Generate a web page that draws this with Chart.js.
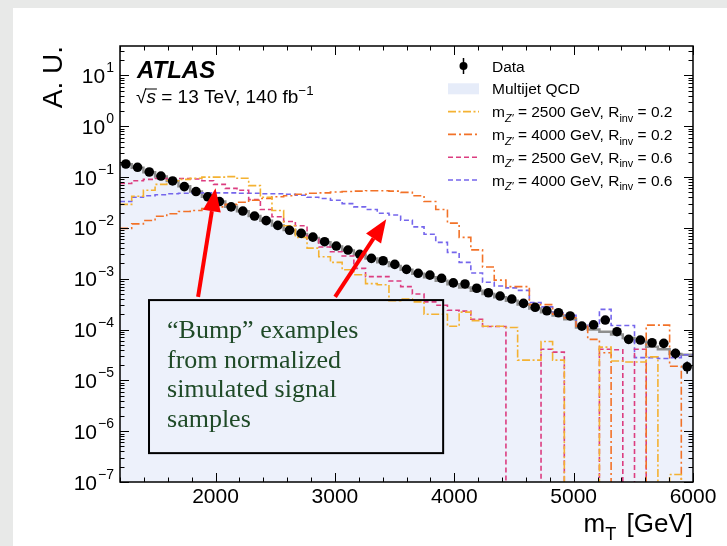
<!DOCTYPE html>
<html>
<head>
<meta charset="utf-8">
<script src="https://cdn.jsdelivr.net/npm/chart.js@4.4.1/dist/chart.umd.min.js"></script>
<style>
  html, body { margin: 0; padding: 0; width: 100%; height: 100%; overflow: hidden; background: #fff; }
  .strip { position: absolute; background: #e8e9e8; }
  #top { left: 0; top: 0; width: 100%; height: 8px; }
  #left { left: 0; top: 0; width: 13px; height: 100%; }
  #c { position: absolute; left: 0; top: 0; }
</style>
</head>
<body>
<div class="strip" id="top"></div>
<div class="strip" id="left"></div>
<canvas id="c" width="727" height="546"></canvas>
<script>
'use strict';

// bin edges of the mT histogram [GeV]
var binEdges = [1200,1298,1396,1494,1592,1690,1788,1886,1984,2082,2180,2278,2376,2473,2571,2669,2767,2865,2963,3061,
                3159,3257,3355,3453,3551,3649,3747,3845,3943,4041,4139,4237,4335,4433,4531,4629,4727,4824,4922,5020,
                5118,5216,5314,5412,5510,5608,5706,5804,5902,6000];

var dataValues = [0.181,0.156,0.126,0.105,0.084,0.065,0.052,0.041,0.033,0.026,
                  0.0215,0.0171,0.0139,0.0112,0.0090,0.0078,0.0066,0.00535,0.0044,0.00367,
                  0.00302,0.00252,0.00226,0.00192,0.00153,0.00128,0.00118,0.00102,0.00083,0.00079,
                  0.00065,0.00053,0.000456,0.000398,0.000328,0.000274,0.000234,0.000214,0.000185,0.000117,
                  0.000124,0.000154,0.0000906,0.0000642,0.0000621,0.000055,0.0000535,0.000034,0.0000185];

var dataErrors = [0,0,0,0,0,0,0,0,0,0, 0,0,0,0,0,0,0,0,0,0, 0,0,0,0,0,0,0,0,0,0,
                  0,0,0,0,0,0,0,0,0,0, 0,0,0.000004,0.000004,0.000004,0.000004,0.000005,0.000008,0.000005];

var qcdValues = [0.178,0.152,0.125,0.103,0.084,0.066,0.052,0.041,0.033,0.026,
                 0.0212,0.0171,0.0138,0.0112,0.0091,0.0076,0.0063,0.0052,0.0043,0.0036,
                 0.0030,0.0025,0.0021,0.00178,0.00150,0.00126,0.00107,0.00091,0.00078,0.00067,
                 0.00058,0.00050,0.00043,0.00037,0.00031,0.00026,0.00022,0.00019,0.00016,0.00011,
                 0.0001,0.00009,0.00008,0.000068,0.000058,0.000046,0.000041,0.000033,0.000032];

var sig2500r02 = [0.029,0.042,0.055,0.072,0.085,0.090,0.095,0.100,0.100,0.102,
                  0.095,0.068,0.040,0.022,0.011,0.0065,0.0040,0.0027,0.0021,0.0015,
                  0.0012,0.0008,0.00076,0.00037,0.0004,0.00035,0.0002,0.0002,0.000116,0.00022,
                  0.00015,0.000116,0.000116,0.00011,0.000025,0.000025,0.000058,0.000025,0,0,
                  0,0.000045,0.000024,0.000023,0.000023,0.000029,0,0.00000014,0];

var sig4000r02 = [0.0098,0.012,0.014,0.017,0.019,0.021,0.022,0.024,0.026,0.029,
                  0.032,0.035,0.038,0.041,0.043,0.046,0.048,0.049,0.051,0.052,
                  0.053,0.054,0.054,0.053,0.050,0.043,0.033,0.023,0.0124,0.0065,
                  0.0037,0.0017,0.00094,0.0007,0.0007,0.00031,0.00031,0.0002,0.00017,0.000116,
                  0.000064,0.000035,0,0,0,0.000122,0.000122,0.000019,0];

var sig2500r06 = [0.075,0.085,0.090,0.094,0.094,0.094,0.092,0.085,0.072,0.060,
                  0.055,0.036,0.023,0.0166,0.0134,0.011,0.006,0.0042,0.0034,0.0028,
                  0.0016,0.0011,0.0011,0.0009,0.0007,0.0005,0.00035,0.0003,0.00024,0.00023,
                  0.00016,0.000115,0.000115,0,0,0,0.000041,0.000036,0,0,
                  0,0.000041,0.00004,0,0.000041,0,0,0,0];

var sig4000r06 = [0.033,0.040,0.043,0.045,0.047,0.048,0.049,0.049,0.049,0.049,
                  0.048,0.048,0.047,0.047,0.046,0.044,0.040,0.038,0.035,0.030,
                  0.026,0.023,0.0194,0.018,0.0142,0.0105,0.0075,0.0052,0.0033,0.0021,
                  0.0013,0.00085,0.00072,0.00066,0.00059,0.00034,0.00028,0.00021,0.00019,0.00013,
                  0.000115,0.00025,0.00012,0.00012,0.000028,0.000028,0.000027,0.000028,0.000032];

var xTickLabels = ['2000', '3000', '4000', '5000', '6000'];

var colors = {
    data     : '#000000',
    qcdFill  : '#edf1fb',
    qcdLine  : '#8e8e8e',
    yellow   : '#f4b232',
    orange   : '#f27228',
    pink     : '#dc3d80',
    purple   : '#7566ec',
    arrow    : '#ff0000',
    note     : '#1f4a27'
};

var sans = "'Liberation Sans', Arial, Helvetica, sans-serif";
var serif = "'Liberation Serif', 'Times New Roman', serif";

// annotation placed in data coordinates
var note = {
    box: { x0: 1443, x1: 3907, yTop: 3.8e-4, yBottom: 3.7e-7 },
    lines: ['\u201cBump\u201d examples', 'from normalized', 'simulated signal', 'samples'],
    arrows: [
        { from: { x: 1854, y: 4.4e-4 }, to: { x: 2000, y: 0.060 } },
        { from: { x: 3002, y: 4.4e-4 }, to: { x: 3430, y: 0.0148 } }
    ]
};

function histPoints(values) {
    var pts = values.map(function(v, i) { return { x: binEdges[i], y: v > 0 ? v : 1e-9 }; });
    var last = values[values.length - 1];
    pts.push({ x: binEdges[binEdges.length - 1], y: last > 0 ? last : 1e-9 });
    return pts;
}

function binCenters() {
    return dataValues.map(function(v, i) { return (binEdges[i] + binEdges[i + 1]) / 2; });
}

function sigDataset(label, values, color, dash, order) {
    return {
        label: label,
        data: histPoints(values),
        borderColor: color,
        borderWidth: 1.6,
        borderDash: dash,
        stepped: 'before',
        pointRadius: 0,
        fill: false,
        order: order
    };
}

var centers = binCenters();

var dashes = {
    yellow: [8, 2.5, 2, 2.5],
    orange: [8, 3, 2, 3],
    pink: [5, 3],
    purple: [5, 3]
};

// legend entries; text split into normal / subscript pieces
var legendRows = [
    { kind: 'data', parts: [{ t: 'Data' }] },
    { kind: 'box', parts: [{ t: 'Multijet QCD' }] },
    { kind: 'line', color: colors.yellow, dash: dashes.yellow, parts: [{ t: 'm' }, { t: 'Z\u2032', sub: true, it: true }, { t: ' = 2500 GeV, R' }, { t: 'inv', sub: true }, { t: ' = 0.2' }] },
    { kind: 'line', color: colors.orange, dash: dashes.orange, parts: [{ t: 'm' }, { t: 'Z\u2032', sub: true, it: true }, { t: ' = 4000 GeV, R' }, { t: 'inv', sub: true }, { t: ' = 0.2' }] },
    { kind: 'line', color: colors.pink, dash: dashes.pink, parts: [{ t: 'm' }, { t: 'Z\u2032', sub: true, it: true }, { t: ' = 2500 GeV, R' }, { t: 'inv', sub: true }, { t: ' = 0.6' }] },
    { kind: 'line', color: colors.purple, dash: dashes.purple, parts: [{ t: 'm' }, { t: 'Z\u2032', sub: true, it: true }, { t: ' = 4000 GeV, R' }, { t: 'inv', sub: true }, { t: ' = 0.6' }] }
];

function richText(ctx, x, y, parts, size, draw) {
    var cx = x;
    parts.forEach(function(p) {
        var sz = (p.sub || p.sup) ? size * 0.7 : size;
        ctx.font = (p.it ? 'italic ' : '') + (p.bold ? 'bold ' : '') + sz + 'px ' + sans;
        var dy = p.sub ? size * 0.3 : (p.sup ? -size * 0.42 : 0);
        if (draw !== false) ctx.fillText(p.t, cx, y + dy);
        cx += ctx.measureText(p.t).width + (p.gap || 0);
    });
    return cx - x;
}

function isPow10(v) {
    var l = Math.log10(v);
    return Math.abs(l - Math.round(l)) < 1e-6;
}

function drawFrame(chart) {
    var ctx = chart.ctx, a = chart.chartArea, xs = chart.scales.x, ys = chart.scales.y;
    ctx.save();
    ctx.strokeStyle = '#000';
    ctx.lineWidth = 1;
    ctx.beginPath();
    xs.ticks.forEach(function(t) {
        var px = Math.round(xs.getPixelForValue(t.value)) + 0.5;
        var len = t.value % 1000 === 0 ? 9 : 4.5;
        ctx.moveTo(px, a.bottom); ctx.lineTo(px, a.bottom - len);
        ctx.moveTo(px, a.top); ctx.lineTo(px, a.top + len);
    });
    ys.ticks.forEach(function(t) {
        var py = Math.round(ys.getPixelForValue(t.value)) + 0.5;
        var len = isPow10(t.value) ? 9 : 4.5;
        ctx.moveTo(a.left, py); ctx.lineTo(a.left + len, py);
        ctx.moveTo(a.right, py); ctx.lineTo(a.right - len, py);
    });
    ctx.stroke();
    ctx.lineWidth = 1.5;
    ctx.strokeRect(a.left, a.top, a.right - a.left, a.bottom - a.top);
    ctx.restore();
}

function drawAxisLabels(chart) {
    var ctx = chart.ctx, a = chart.chartArea, xs = chart.scales.x, ys = chart.scales.y;
    ctx.save();
    ctx.fillStyle = '#000';
    ctx.textBaseline = 'alphabetic';

    // x tick labels
    ctx.font = '21px ' + sans;
    ctx.textAlign = 'center';
    xTickLabels.forEach(function(lbl) {
        ctx.fillText(lbl, xs.getPixelForValue(Number(lbl)), a.bottom + 21);
    });

    // y tick labels 10^n
    ctx.textAlign = 'left';
    ys.ticks.forEach(function(t) {
        if (!isPow10(t.value)) return;
        var n = Math.round(Math.log10(t.value));
        var ex = n < 0 ? '\u2212' + Math.abs(n) : String(n);
        var py = ys.getPixelForValue(t.value);
        ctx.font = '14px ' + sans;
        var we = ctx.measureText(ex).width;
        ctx.font = '21px ' + sans;
        var wb = ctx.measureText('10').width;
        var x0 = a.left - 6 - we - wb - 1;
        ctx.fillText('10', x0, py + 7.5);
        ctx.font = '14px ' + sans;
        ctx.fillText(ex, x0 + wb + 1, py - 3);
    });

    // x title m_T [GeV]
    var xt = [{ t: 'm' }, { t: 'T', sub: true, gap: 3 }, { t: ' [GeV]' }];
    var w = richText(ctx, 0, 0, xt, 26, false);
    richText(ctx, a.right - w, 532, xt, 26);

    // y title
    ctx.save();
    ctx.translate(62, a.top);
    ctx.rotate(-Math.PI / 2);
    ctx.textAlign = 'right';
    ctx.font = '28px ' + sans;
    ctx.fillText('A. U.', 0, 0);
    ctx.restore();

    // ATLAS label
    ctx.textAlign = 'left';
    ctx.font = 'italic bold 24px ' + sans;
    ctx.fillText('ATLAS', 137, 78);
    ctx.font = '19px ' + sans;
    var rx = 136;
    ctx.fillText('\u221a', rx, 103);
    var wr = ctx.measureText('\u221a').width;
    ctx.font = 'italic 19px ' + sans;
    ctx.fillText('s', rx + wr, 103);
    var ws = ctx.measureText('s').width;
    ctx.lineWidth = 1;
    ctx.beginPath();
    ctx.moveTo(rx + wr - 1, 89); ctx.lineTo(rx + wr + ws + 1, 89);
    ctx.stroke();
    richText(ctx, rx + wr + ws, 103, [{ t: ' = 13 TeV, 140 fb' }, { t: '\u22121', sup: true }], 19);
    ctx.restore();
}

function drawLegend(chart) {
    var ctx = chart.ctx;
    var x0 = 448, x1 = 479, tx = 492, y = 66, step = 22.8;
    ctx.save();
    legendRows.forEach(function(r, i) {
        var yc = y + i * step;
        if (r.kind === 'data') {
            ctx.strokeStyle = '#000'; ctx.lineWidth = 1.5;
            ctx.beginPath(); ctx.moveTo((x0 + x1) / 2, yc - 8); ctx.lineTo((x0 + x1) / 2, yc + 8); ctx.stroke();
            ctx.fillStyle = '#000';
            ctx.beginPath(); ctx.arc((x0 + x1) / 2, yc, 4, 0, Math.PI * 2); ctx.fill();
        } else if (r.kind === 'box') {
            ctx.fillStyle = '#e6ecf9';
            ctx.fillRect(x0, yc - 5.5, x1 - x0, 11);
        } else {
            ctx.strokeStyle = r.color; ctx.lineWidth = 1.6; ctx.setLineDash(r.dash);
            ctx.beginPath(); ctx.moveTo(x0, yc); ctx.lineTo(x1, yc); ctx.stroke();
            ctx.setLineDash([]);
        }
        ctx.fillStyle = '#000';
        ctx.textAlign = 'left';
        richText(ctx, tx, yc + 5.5, r.parts, 15.5);
    });
    ctx.restore();
}

function drawErrorBars(chart) {
    var ctx = chart.ctx, ys = chart.scales.y, xs = chart.scales.x;
    ctx.save();
    ctx.strokeStyle = '#000'; ctx.lineWidth = 1.5;
    ctx.beginPath();
    dataValues.forEach(function(v, i) {
        if (!dataErrors[i]) return;
        var px = xs.getPixelForValue(centers[i]);
        ctx.moveTo(px, ys.getPixelForValue(v + dataErrors[i]));
        ctx.lineTo(px, ys.getPixelForValue(v - dataErrors[i]));
    });
    ctx.stroke();
    ctx.restore();
}

function drawArrow(ctx, x0, y0, x1, y1) {
    var ang = Math.atan2(y1 - y0, x1 - x0), hl = 23, hw = 9;
    var bx = x1 - hl * Math.cos(ang), by = y1 - hl * Math.sin(ang);
    ctx.beginPath(); ctx.moveTo(x0, y0); ctx.lineTo(bx, by); ctx.stroke();
    ctx.beginPath();
    ctx.moveTo(x1, y1);
    ctx.lineTo(bx + hw * Math.sin(ang), by - hw * Math.cos(ang));
    ctx.lineTo(bx - hw * Math.sin(ang), by + hw * Math.cos(ang));
    ctx.closePath(); ctx.fill();
}

function drawNote(chart) {
    var ctx = chart.ctx, xs = chart.scales.x, ys = chart.scales.y;
    var bx0 = xs.getPixelForValue(note.box.x0), bx1 = xs.getPixelForValue(note.box.x1);
    var by0 = ys.getPixelForValue(note.box.yTop), by1 = ys.getPixelForValue(note.box.yBottom);
    ctx.save();
    ctx.strokeStyle = '#000'; ctx.lineWidth = 2;
    ctx.strokeRect(bx0, by0, bx1 - bx0, by1 - by0);
    ctx.fillStyle = colors.note;
    ctx.font = '26px ' + serif;
    ctx.textAlign = 'left';
    note.lines.forEach(function(l, i) { ctx.fillText(l, bx0 + 18, by0 + 38 + i * 29.5); });
    ctx.strokeStyle = colors.arrow; ctx.fillStyle = colors.arrow; ctx.lineWidth = 4;
    note.arrows.forEach(function(a) {
        drawArrow(ctx, xs.getPixelForValue(a.from.x), ys.getPixelForValue(a.from.y),
                       xs.getPixelForValue(a.to.x), ys.getPixelForValue(a.to.y));
    });
    ctx.restore();
}

var decor = {
    id: 'atlasDecor',
    afterDatasetsDraw: function(chart) {
        drawErrorBars(chart);
        drawFrame(chart);
        drawAxisLabels(chart);
        drawLegend(chart);
        drawNote(chart);
    }
};

new Chart(document.getElementById('c'), {
    type: 'line',
    data: {
        datasets: [{
            label: 'Data',
            data: dataValues.map(function(v, i) { return { x: centers[i], y: v }; }),
            showLine: false,
            pointRadius: 4.8,
            pointBackgroundColor: colors.data,
            pointBorderWidth: 0,
            order: 0
        },
        sigDataset('mZ\u2032 = 2500 GeV, Rinv = 0.2', sig2500r02, colors.yellow, dashes.yellow, 1),
        sigDataset('mZ\u2032 = 4000 GeV, Rinv = 0.2', sig4000r02, colors.orange, dashes.orange, 2),
        sigDataset('mZ\u2032 = 2500 GeV, Rinv = 0.6', sig2500r06, colors.pink, dashes.pink, 3),
        sigDataset('mZ\u2032 = 4000 GeV, Rinv = 0.6', sig4000r06, colors.purple, dashes.purple, 4),
        {
            label: 'Multijet QCD',
            data: histPoints(qcdValues),
            borderColor: colors.qcdLine,
            borderWidth: 2.5,
            backgroundColor: colors.qcdFill,
            stepped: 'before',
            pointRadius: 0,
            fill: 'start',
            order: 5
        }]
    },
    options: {
        responsive: false,
        animation: false,
        events: [],
        layout: { padding: { left: 0, top: 46, right: 34, bottom: 0 } },
        plugins: {
            legend: { display: false },
            tooltip: { enabled: false }
        },
        scales: {
            x: {
                type: 'linear',
                min: 1200,
                max: 6000,
                grid: { display: false },
                border: { display: false },
                ticks: { display: false },
                afterBuildTicks: function(scale) {
                    var t = [];
                    for (var v = 1200; v <= 6000; v += 200) t.push({ value: v });
                    scale.ticks = t;
                },
                afterFit: function(scale) { scale.height = 64; }
            },
            y: {
                type: 'logarithmic',
                min: 1e-7,
                max: 38,
                grid: { display: false },
                border: { display: false },
                ticks: { display: false },
                afterBuildTicks: function(scale) {
                    var t = [];
                    for (var e = -7; e <= 1; e++) {
                        for (var m = 1; m <= 9; m++) {
                            var v = m * Math.pow(10, e);
                            if (v <= 38) t.push({ value: v });
                        }
                    }
                    scale.ticks = t;
                },
                afterFit: function(scale) { scale.width = 120; }
            }
        }
    },
    plugins: [decor]
});
</script>
</body>
</html>
